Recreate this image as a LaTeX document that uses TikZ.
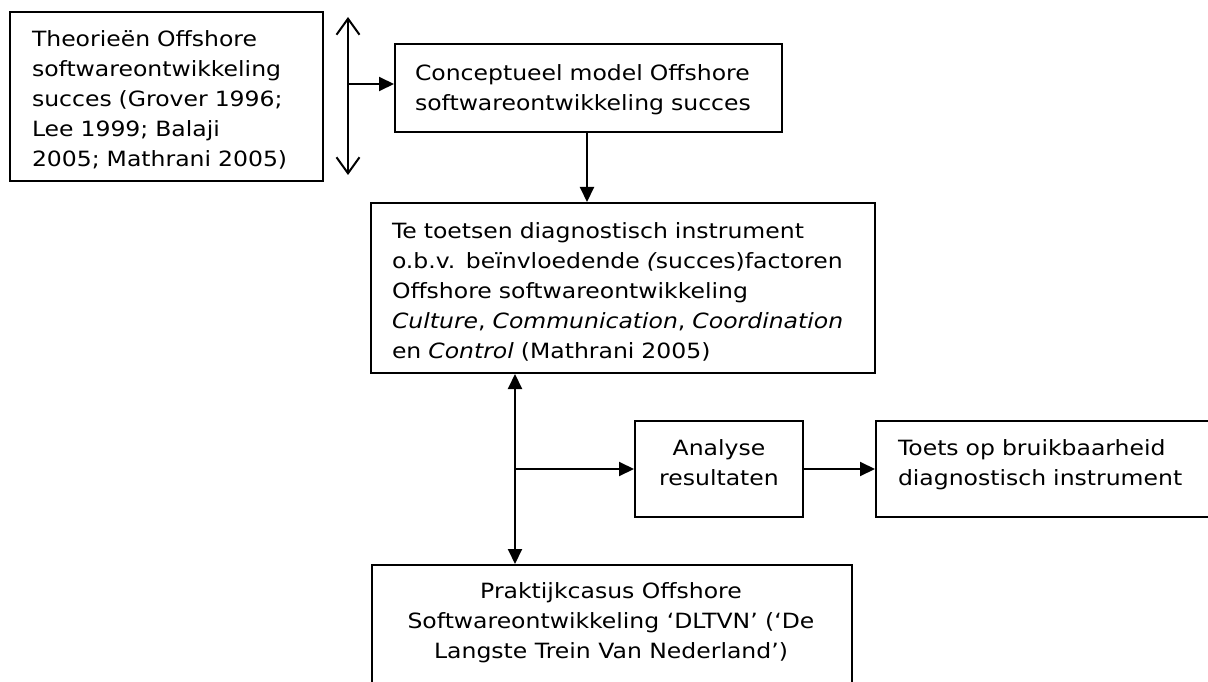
\documentclass[tikz,border=0pt]{standalone}
\usepackage{fontspec}
\setmainfont[FakeStretch=1.12]{DejaVu Sans}
\usetikzlibrary{arrows.meta}
\newcommand{\lines}[2]{\raisebox{#1}[\height][\depth]{\begin{tabular}{@{}l@{}}#2\end{tabular}}}
\newcommand{\clines}[2]{\raisebox{#1}[\height][\depth]{\begin{tabular}{@{}c@{}}#2\end{tabular}}}
\begin{document}
\begin{tikzpicture}[x=1pt,y=-1pt,
  box/.style={draw, line width=2pt, inner ysep=0pt, font=\fontsize{21}{30}\selectfont},
  conn/.style={line width=2pt},
  fa/.style={conn, -{Triangle[length=15pt,width=14pt]}},
  fboth/.style={conn, {Triangle[length=15pt,width=14pt]}-{Triangle[length=15pt,width=14pt]}},
  oboth/.style={conn, {Straight Barb[length=16pt,width=23pt,line width=2pt]}-{Straight Barb[length=16pt,width=23pt,line width=2pt]}}]
\useasboundingbox (0,0) rectangle (1208,682);
\clip (0,0) rectangle (1208,682);
\fill[white] (0,0) rectangle (1208,682);

% boxes
\node[box, minimum width=313pt, minimum height=169pt, inner xsep=22pt, text width=269pt, align=left]
  (theo) at (166.5,96.5)
  {\lines{-4.5pt}{Theorieën Offshore\\softwareontwikkeling\\succes (Grover 1996;\\Lee 1999; Balaji\\2005; Mathrani 2005)}};
\node[box, minimum width=387pt, minimum height=88pt, inner xsep=20pt, text width=347pt, align=left]
  (concept) at (588.5,88)
  {\lines{-1.5pt}{Conceptueel model Offshore\\softwareontwikkeling succes}};
\node[box, minimum width=504pt, minimum height=170pt, inner xsep=21pt, text width=462pt, align=left]
  (instr) at (623,288)
  {\lines{-4.3pt}{Te toetsen diagnostisch instrument\\o.b.v. beïnvloedende {\itshape(}succes)factoren\\Offshore softwareontwikkeling\\{\itshape Culture}, {\itshape Communication}, {\itshape Coordination}\\en {\itshape Control} (Mathrani 2005)}};
\node[box, minimum width=168pt, minimum height=96pt, inner xsep=0pt] (analyse) at (719,469)
  {\clines{5pt}{Analyse\\resultaten}};
\node[box, minimum width=400pt, minimum height=96pt, inner xsep=22pt, text width=356pt, align=left, anchor=west]
  (toets) at (875,469) {\lines{5pt}{Toets op bruikbaarheid\\diagnostisch instrument}};
\node[box, minimum width=480pt, minimum height=200pt, anchor=north west] (prak) at (371,564) {};
\node[font=\fontsize{21}{30}\selectfont, align=center, anchor=north, inner sep=0pt]
  (praktxt) at (611,582) {Praktijkcasus Offshore\\Softwareontwikkeling ‘DLTVN’ (‘De\\Langste Trein Van Nederland’)};

% connectors
\coordinate (dtop) at (348,17);
\coordinate (dbot) at (348,175);
\coordinate (dmid) at (348,84);
\draw[oboth] (dtop) -- (dbot);
\draw[fa] (dmid) -- (dmid -| concept.west);
\coordinate (c) at (587,0);
\draw[fa] (c |- concept.south) -- (c |- instr.north);
\coordinate (v) at (515,0);
\draw[fboth] (v |- instr.south) -- (v |- prak.north);
\draw[fa] (v |- analyse.west) -- (analyse.west);
\draw[fa] (analyse.east) -- (toets.west);
\end{tikzpicture}
\end{document}
